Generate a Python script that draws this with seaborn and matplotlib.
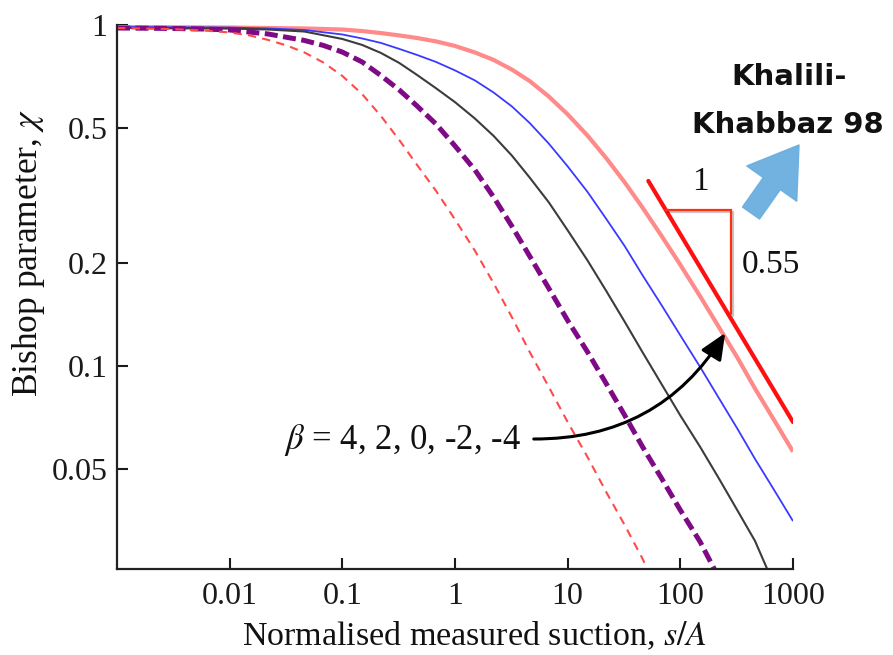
import matplotlib
matplotlib.use("Agg")
import matplotlib.pyplot as plt
import matplotlib.patheffects as pe
from matplotlib.patches import FancyArrowPatch
import seaborn as sns
import pandas as pd

# ---------------- data ----------------
# beta = 4 (light red, thick)
x_beta4 = [0.001, 0.01, 0.022, 0.046, 0.1, 0.15, 0.22, 0.32, 0.46, 0.68, 1, 1.5, 2.2, 3.2, 4.6,
           6.8, 10, 15, 22, 32, 46, 68, 100, 150, 220, 320, 460, 680, 1000]
y_beta4 = [0.987, 0.983, 0.980, 0.977, 0.970, 0.960, 0.947, 0.932, 0.916, 0.895, 0.868, 0.831,
           0.790, 0.740, 0.685, 0.617, 0.547, 0.474, 0.407, 0.346, 0.292, 0.241, 0.198, 0.160,
           0.130, 0.106, 0.0859, 0.0694, 0.0561]

# beta = 2 (blue)
x_beta2 = [0.001, 0.01, 0.022, 0.046, 0.1, 0.15, 0.22, 0.32, 0.46, 0.68, 1, 1.5, 2.2, 3.2, 4.6,
           6.8, 10, 15, 22, 32, 46, 68, 100, 150, 220, 320, 460, 680, 1000]
y_beta2 = [0.987, 0.983, 0.977, 0.967, 0.938, 0.913, 0.886, 0.851, 0.817, 0.779, 0.736, 0.688,
           0.634, 0.577, 0.516, 0.449, 0.385, 0.324, 0.270, 0.225, 0.185, 0.151, 0.123, 0.0993,
           0.0805, 0.0656, 0.0534, 0.0433, 0.0351]

# beta = 0 (black)
x_beta0 = [0.001, 0.01, 0.022, 0.046, 0.1, 0.15, 0.22, 0.32, 0.46, 0.68, 1, 1.5, 2.2, 3.2, 4.6,
           6.8, 10, 15, 22, 32, 46, 68, 100, 150, 220, 320, 460, 590]
y_beta0 = [0.980, 0.977, 0.970, 0.957, 0.910, 0.874, 0.828, 0.774, 0.714, 0.652, 0.594, 0.532,
           0.473, 0.414, 0.357, 0.302, 0.250, 0.204, 0.166, 0.135, 0.110, 0.0886, 0.0716, 0.0579,
           0.0468, 0.0378, 0.0307, 0.0254]

# beta = -2 (purple, thick dashed)
x_betam2 = [0.001, 0.003, 0.006, 0.01, 0.022, 0.046, 0.068, 0.1, 0.15, 0.22, 0.32, 0.46, 0.68, 1,
            1.5, 2.2, 3.2, 4.6, 6.8, 10, 15, 22, 32, 46, 68, 100, 150, 200]
y_betam2 = [0.980, 0.977, 0.973, 0.967, 0.941, 0.901, 0.871, 0.833, 0.779, 0.711, 0.645, 0.579,
            0.512, 0.442, 0.376, 0.313, 0.257, 0.210, 0.169, 0.136, 0.110, 0.0888, 0.0718,
            0.0581, 0.0469, 0.0378, 0.0305, 0.0254]

# beta = -4 (red, thin dashed)
x_betam4 = [0.001, 0.003, 0.006, 0.01, 0.015, 0.022, 0.032, 0.046, 0.068, 0.1, 0.15, 0.22, 0.32,
            0.46, 0.68, 1, 1.5, 2.2, 3.2, 4.6, 6.8, 10, 15, 22, 32, 46, 51]
y_betam4 = [0.980, 0.973, 0.963, 0.951, 0.932, 0.904, 0.871, 0.831, 0.776, 0.709, 0.627, 0.541,
            0.460, 0.389, 0.326, 0.269, 0.218, 0.175, 0.139, 0.110, 0.0868, 0.0685, 0.0541,
            0.0427, 0.0342, 0.0273, 0.0254]

# Khalili-Khabbaz slope line (slope 0.55) and its triangle
kk_x = [52, 1000]
kk_y = [0.349, 0.0685]
tri_x = [75, 283, 283]
tri_y = [0.287, 0.287, 0.142]

xtick_vals = [0.01, 0.1, 1, 10, 100, 1000]
xtick_labels = ["0.01", "0.1", "1", "10", "100", "1000"]
ytick_vals = [0.05, 0.1, 0.2, 0.5, 1]
ytick_labels = ["0.05", "0.1", "0.2", "0.5", "1"]

# ---------------- figure ----------------
sns.set_theme(style="ticks")
plt.rcParams["font.family"] = ["Liberation Serif", "DejaVu Serif"]
plt.rcParams["mathtext.fontset"] = "stix"

W, H = 893, 655
fig = plt.figure(figsize=(W / 100, H / 100), dpi=100)
ax = fig.add_axes([117 / W, 1 - 569 / H, (793 - 117) / W, (569 - 25) / H])
ax.set_xscale("log")
ax.set_yscale("log")

series = [
    (x_beta4, y_beta4, dict(color="#ff8a8a", lw=3.0, linestyle="-")),
    (x_beta2, y_beta2, dict(color="#3a3aff", lw=1.3, linestyle="-")),
    (x_beta0, y_beta0, dict(color="#3c3c3c", lw=1.5, linestyle="-")),
    (x_betam2, y_betam2, dict(color="#7f0a86", lw=3.6, linestyle=(0, (2.6, 1.1)))),
    (x_betam4, y_betam4, dict(color="#ff4a4a", lw=1.5, linestyle=(0, (4.0, 3.0)))),
]
for xs, ys, kw in series:
    df = pd.DataFrame({"x": xs, "y": ys})
    sns.lineplot(data=df, x="x", y="y", ax=ax, estimator=None, sort=False,
                 legend=False, solid_capstyle="butt", dash_capstyle="butt",
                 solid_joinstyle="round", **kw)

# slope line and triangle
sns.lineplot(x=kk_x, y=kk_y, ax=ax, estimator=None, sort=False, color="#ff1010",
             lw=3.0, legend=False)
ax.plot(tri_x, tri_y, color="#ff3010", lw=1.6, solid_joinstyle="miter",
        path_effects=[pe.SimpleLineShadow(offset=(1.5, -1.5), alpha=0.25), pe.Normal()])

ax.set_xlim(0.001, 1000)
ax.set_ylim(0.0254, 1)

ax.set_xticks(xtick_vals)
ax.set_xticklabels(xtick_labels)
ax.set_yticks(ytick_vals)
ax.set_yticklabels(ytick_labels)
ax.minorticks_off()
ax.tick_params(axis="both", which="major", direction="in", length=8, width=1.5,
               labelsize=23, colors="#1a1a1a")
ax.tick_params(axis="x", pad=9)
ax.tick_params(axis="y", pad=7)
for s in ["top", "right"]:
    ax.spines[s].set_visible(False)
for s in ["left", "bottom"]:
    ax.spines[s].set_linewidth(1.6)
    ax.spines[s].set_color("#222222")

ax.set_xlabel("Normalised measured suction, $s/A$", fontsize=24.5, color="#111111")
ax.xaxis.set_label_coords((474 - 117) / 676, -0.093)
ax.set_ylabel("Bishop parameter, $\\chi$", fontsize=25.5, color="#111111")
ax.yaxis.set_label_coords((47 - 117) / 676, (569 - 253) / 544)

# annotations
ax.text(150, 0.346, "1", fontsize=24, ha="center", va="center", color="#111111")
ax.text(354, 0.198, "0.55", fontsize=24, ha="left", va="center", color="#111111")
ax.annotate("", xy=(250, 0.125), xytext=(5.0, 0.0611),
            arrowprops=dict(arrowstyle="-|>,head_length=0.8,head_width=0.35",
                            connectionstyle="arc3,rad=0.28", color="black",
                            lw=2.2, mutation_scale=20, shrinkA=0, shrinkB=0))
ax.text(3.84, 0.0606, "$\\beta$ = 4, 2, 0, -2, -4", fontsize=25, ha="right",
        va="center", color="#111111")

fig.text(789 / W, 1 - 77 / H, "Khalili-", fontsize=21, ha="center", va="center",
         family=["DejaVu Sans"], fontweight="bold", color="#111111")
fig.text(788 / W, 1 - 125 / H, "Khabbaz 98", fontsize=21, ha="center", va="center",
         family=["DejaVu Sans"], fontweight="bold", color="#111111")

arr = FancyArrowPatch((751, H - 213), (799, H - 145), transform=None,
                      arrowstyle="simple,head_length=1.7,head_width=2.2,tail_width=0.75",
                      mutation_scale=20, color="#6aaee0", alpha=0.95, shrinkA=0, shrinkB=0)
fig.patches.append(arr)

fig.savefig("out.png", dpi=100)
